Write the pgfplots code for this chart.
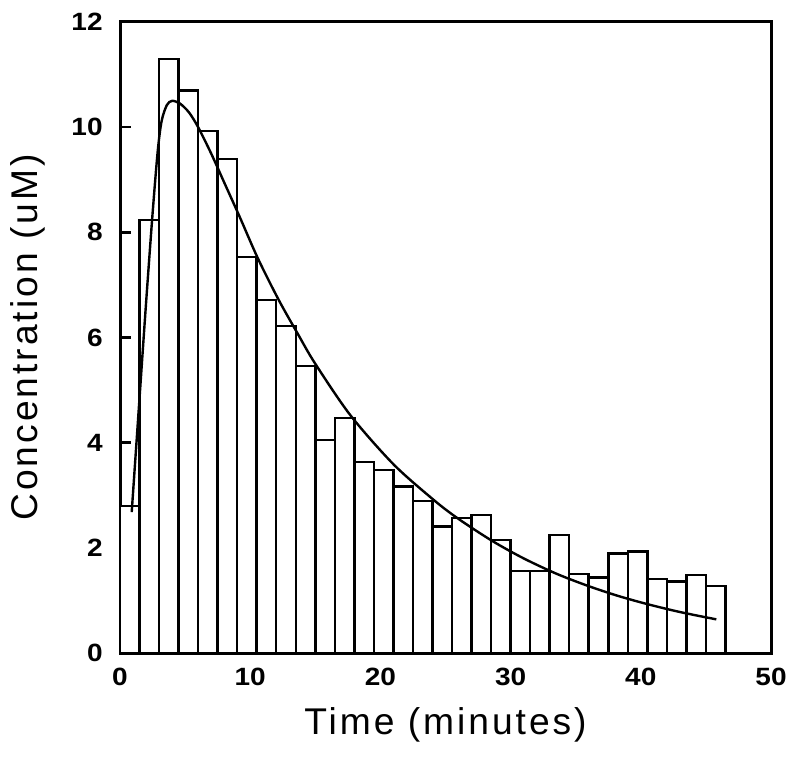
\documentclass[border=0pt]{standalone}
\usepackage{fontspec}
\setmainfont{Liberation Sans}
\newfontfamily\labelfont[LetterSpace=8]{Liberation Sans}
\newfontfamily\tickfont[FakeStretch=1.12]{Liberation Sans}
\usepackage{pgfplots}
\pgfplotsset{compat=1.18}
\begin{document}
\begin{tikzpicture}
\begin{axis}[
  scale only axis,
  width=325.5pt, height=315.5pt,
  xmin=0, xmax=50, ymin=0, ymax=12,
  xtick={0,10,20,30,40,50},
  ytick={0,2,4,6,8,10,12},
  tick align=inside,
  xtick pos=bottom, ytick pos=left,
  major tick length=5.5pt,
  tick style={line width=1.2pt, black},
  axis line style={line width=1.5pt},
  /pgf/number format/assume math mode=true,
  ticklabel style={font=\tickfont\bfseries\fontsize{12.5}{13}\selectfont},
  yticklabel style={inner xsep=0pt, xshift=-8.5pt},
  xticklabel style={inner ysep=0pt, yshift=-7.5pt},
  xlabel={Time (minutes)},
  ylabel={Concentration (uM)},
  label style={font=\labelfont\fontsize{18.6}{20}\selectfont},
  xlabel style={at={(axis description cs:0.5,-0.1141)}, anchor=center},
  ylabel style={at={(axis description cs:-0.1413,0.5)}, anchor=center},
  clip=false,
]
\addplot[ybar interval, draw=black, fill=white, line width=1.25pt] coordinates {
(0,2.80) (1.5,8.23) (3,11.30) (4.5,10.70) (6,9.93) (7.5,9.39) (9,7.53)
(10.5,6.71) (12,6.22) (13.5,5.46) (15,4.05) (16.5,4.47) (18,3.63)
(19.5,3.48) (21,3.17) (22.5,2.89) (24,2.41) (25.5,2.57) (27,2.62)
(28.5,2.15) (30,1.56) (31.5,1.56) (33,2.24) (34.5,1.50) (36,1.44)
(37.5,1.89) (39,1.93) (40.5,1.41) (42,1.36) (43.5,1.48) (45,1.27)
(46.5,1.27)
};
\addplot[smooth, black, line width=1.2pt, mark=none] coordinates {
(0.9,2.68) (1.5,4.85) (2.0,6.65) (2.5,8.35) (2.9,9.55) (3.2,10.12)
(3.6,10.42) (4.0,10.50) (4.6,10.45) (5.3,10.28) (6.0,10.00) (7.0,9.50)
(8.0,8.95) (9.2,8.29) (10.6,7.50) (12.2,6.71) (13.7,6.05) (15.0,5.50)
(17.7,4.52) (21.0,3.59) (24.1,2.91) (26.0,2.55) (28.6,2.13) (31.0,1.80)
(33.5,1.51) (35.9,1.28) (38.2,1.09) (40.5,0.93) (43.0,0.78) (45.8,0.64)
};
\end{axis}
\pgfresetboundingbox
\path ([xshift=-60pt,yshift=-53.5pt]current axis.south west) rectangle ([xshift=14pt,yshift=11pt]current axis.north east);
\end{tikzpicture}
\end{document}
